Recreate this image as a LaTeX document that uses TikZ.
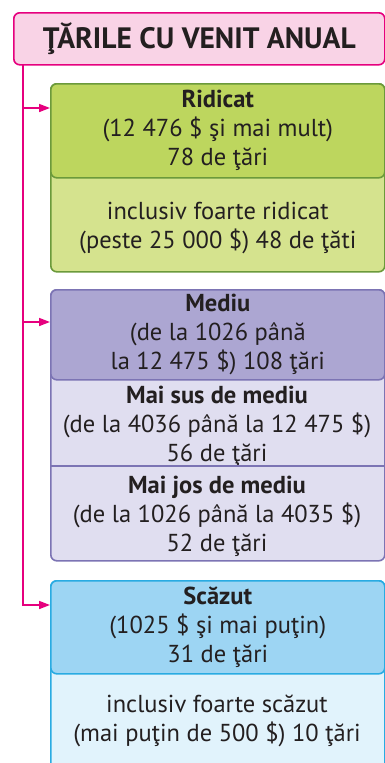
\documentclass[tikz,border=0pt]{standalone}
\usepackage{fontspec}
\setmainfont{PT Sans}
\usetikzlibrary{arrows.meta,calc}
\definecolor{mag}{HTML}{E6007E}
\definecolor{pinkfill}{HTML}{F9D3E6}
\definecolor{grhi}{HTML}{BDD65E}
\definecolor{grlo}{HTML}{D5E38E}
\definecolor{grbd}{HTML}{6B9A3B}
\definecolor{puhi}{HTML}{ACA6D2}
\definecolor{pulo}{HTML}{E0DEF0}
\definecolor{pubd}{HTML}{7C74B4}
\definecolor{blhi}{HTML}{9DD5F3}
\definecolor{bllo}{HTML}{E1F3FC}
\definecolor{blbd}{HTML}{29ABE2}
\definecolor{txt}{HTML}{231F20}
\tikzset{
  sect/.style={draw, line width=1.6pt, rounded corners=6pt, minimum width=334pt, anchor=north west, inner sep=0pt, align=center, text=txt, font=\fontsize{24.5}{29}\selectfont},
  plain/.style={inner sep=0pt, align=center, text=txt, font=\fontsize{24.5}{29}\selectfont},
  conn/.style={draw=mag, line width=1.6pt},
  arr/.style={conn, -{Triangle[length=11pt,width=8pt]}},
}
\begin{document}
\begin{tikzpicture}[x=1pt,y=-1pt]
\useasboundingbox (0,0) rectangle (385,763);
\clip (0,0) rectangle (385,763);
\fill[white] (0,0) rectangle (385,763);
% title
\node[draw=mag, fill=pinkfill, line width=1.6pt, rounded corners=6pt, minimum width=371pt, minimum height=52pt, anchor=north west, inner sep=0pt, text=txt, font=\fontsize{29.5}{32}\selectfont\bfseries] (title) at (13,12) {ŢĂRILE CU VENIT ANUAL};
% green
\node[sect, draw=grbd, fill=grlo, minimum height=188pt] (green) at (50,83) {};
\node[sect, draw=grbd, fill=grhi, minimum height=94pt] (ridicat) at (50,83) {\textbf{Ridicat}\\(12 476 \$ şi mai mult)\\78 de ţări};
\node[plain] (ridicatx) at ($(ridicat.south)!0.5!(green.south)+(0,2)$) {inclusiv foarte ridicat\\(peste 25 000 \$) 48 de ţăti};
% purple
\node[sect, draw=pubd, fill=pulo, minimum height=271pt] (purple) at (50,289) {};
\node[sect, draw=pubd, fill=puhi, minimum height=90pt] (mediu) at (50,289) {\textbf{Mediu}\\(de la 1026 până\\la 12 475 \$) 108 ţări};
\node[plain] (maisus) at (217,426) {\textbf{Mai sus de mediu}\\(de la 4036 până la 12 475 \$)\\56 de ţări};
\node[plain] (maijos) at (217,516) {\textbf{Mai jos de mediu}\\(de la 1026 până la 4035 \$)\\52 de ţări};
\coordinate (divl) at (50,466);
\coordinate (divr) at (384,466);
\draw[pubd, line width=1.6pt] (divl) -- (divr);
% blue
\node[sect, draw=blbd, fill=bllo, minimum height=195pt] (blue) at (50,580) {};
\node[sect, draw=blbd, fill=blhi, minimum height=93pt] (scazut) at (50,580) {\textbf{Scăzut}\\(1025 \$ şi mai puţin)\\31 de ţări};
\node[plain] (scazutx) at (217,721) {inclusiv foarte scăzut\\(mai puţin de 500 \$) 10 ţări};
% connectors
\coordinate (t0) at (23,64);
\coordinate (a1) at ($(ridicat.north west)+(0,25)$);
\coordinate (a2) at ($(mediu.north west)+(0,33)$);
\coordinate (a3) at ($(scazut.north west)+(0,25)$);
\draw[arr] (t0) |- (a3);
\draw[arr] (t0 |- a1) -- (a1);
\draw[arr] (t0 |- a2) -- (a2);
\end{tikzpicture}
\end{document}
